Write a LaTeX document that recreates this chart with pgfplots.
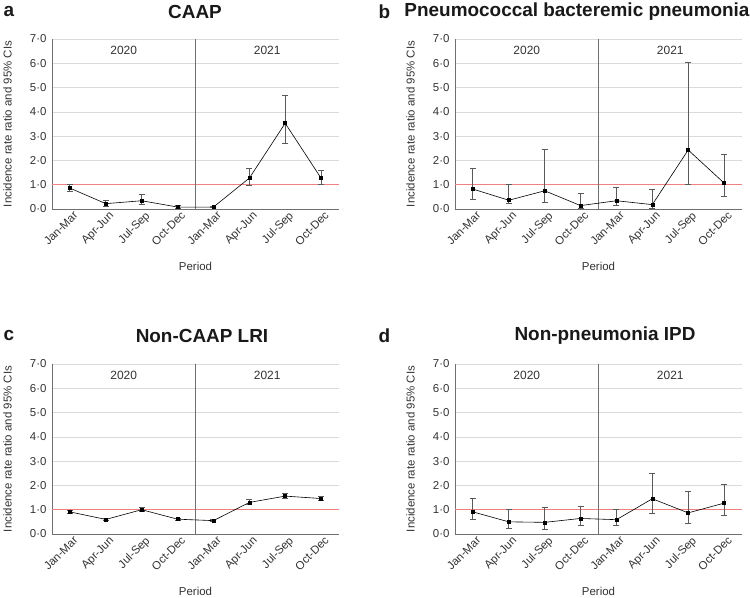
\documentclass[border=0pt]{standalone}
\usepackage{pgfplots}
\pgfplotsset{compat=1.18}
\usepackage{pgfplotstable}
\usepackage{fontspec}
\setmainfont{Liberation Sans}

\pgfplotstableread{
x y lo hi
1 0.86 0.74 1.02
2 0.22 0.11 0.36
3 0.34 0.19 0.60
4 0.08 0.03 0.14
5 0.08 0.05 0.11
6 1.27 0.97 1.66
7 3.53 2.68 4.66
8 1.27 1.03 1.57
}\dataA
\pgfplotstableread{
x y lo hi
1 0.82 0.41 1.66
2 0.36 0.22 1.03
3 0.75 0.25 2.45
4 0.14 0.03 0.64
5 0.34 0.14 0.89
6 0.18 0.03 0.81
7 2.43 1.00 6.03
8 1.07 0.52 2.24
}\dataB
\pgfplotstableread{
x y lo hi
1 0.91 0.85 0.98
2 0.60 0.55 0.66
3 1.00 0.91 1.09
4 0.61 0.57 0.66
5 0.55 0.51 0.59
6 1.30 1.20 1.41
7 1.56 1.45 1.68
8 1.46 1.37 1.56
}\dataC
\pgfplotstableread{
x y lo hi
1 0.91 0.59 1.45
2 0.50 0.23 1.01
3 0.48 0.20 1.09
4 0.64 0.37 1.12
5 0.59 0.34 1.00
6 1.45 0.85 2.48
7 0.87 0.42 1.75
8 1.27 0.78 2.05
}\dataD

\definecolor{gridc}{HTML}{DADADA}
\definecolor{axc}{HTML}{707070}
\definecolor{refred}{HTML}{F08080}
\definecolor{errc}{HTML}{5A5A5A}
\definecolor{txt}{HTML}{333333}

\pgfplotsset{
  panel/.style={
    width=287bp, height=170bp, scale only axis,
    xmin=0.5, xmax=8.5, ymin=0, ymax=7,
    axis x line*=bottom, axis y line*=left,
    axis line style={-, draw=axc, line width=0.7pt},
    ytick={0,1,...,7},
    yticklabels={0·0,1·0,2·0,3·0,4·0,5·0,6·0,7·0},
    ymajorgrids, grid style={draw=gridc, line width=0.7pt},
    xtick={1,...,8},
    xticklabels={Jan-Mar,Apr-Jun,Jul-Sep,Oct-Dec,Jan-Mar,Apr-Jun,Jul-Sep,Oct-Dec},
    xtick style={draw=none},
    ytick style={draw=none},
    extra x ticks={1.5,2.5,...,7.5},
    extra x tick labels={},
    extra x tick style={tick style={draw=axc, line width=0.7pt}, major tick length=4bp, tick align=outside, grid=none},
    tick label style={font=\fontsize{11.5}{13}\selectfont, text=txt},
    xticklabel style={rotate=45, anchor=north east, inner sep=1bp, yshift=-2bp, xshift=2bp},
    yticklabel style={xshift=-2bp},
    /pgf/number format/assume math mode=true,
    xlabel={Period},
    ylabel={Incidence rate ratio and 95\% CIs},
    label style={font=\fontsize{11.5}{13}\selectfont, text=txt},
    xlabel style={at={(axis description cs:0.5,-0.335)}, anchor=center},
    ylabel style={at={(axis description cs:-0.155,0.5)}, anchor=center},
    clip=false,
  },
  series/.style={
    black, line width=0.6pt, mark=square*, mark size=1.5bp,
    mark options={solid, fill=black},
    error bars/.cd, y dir=both, y explicit,
    error bar style={draw=errc, line width=0.9pt},
    error mark options={rotate=90, mark size=3bp, draw=errc, line width=0.9pt},
  },
}

\newcommand{\panel}[1]{%
  \addplot[refred, line width=0.8pt, forget plot] coordinates {(0.5,1) (8.5,1)};
  \addplot[axc, line width=0.8pt, forget plot] coordinates {(4.5,0) (4.5,7)};
  \addplot[series] table[x=x, y=y,
      y error plus expr=\thisrow{hi}-\thisrow{y},
      y error minus expr=\thisrow{y}-\thisrow{lo}] {#1};
  \node[font=\fontsize{12}{14}\selectfont, text=txt] at (axis cs:2.5,6.55) {2020};
  \node[font=\fontsize{12}{14}\selectfont, text=txt] at (axis cs:6.5,6.55) {2021};
}

\begin{document}
\begin{tikzpicture}
\path[use as bounding box] (0bp,0bp) rectangle (750bp,598bp);

\begin{axis}[panel, at={(52bp,389bp)}, anchor=south west]
\panel{\dataA}
\end{axis}
\begin{axis}[panel, at={(455bp,389bp)}, anchor=south west]
\panel{\dataB}
\end{axis}
\begin{axis}[panel, at={(52bp,64bp)}, anchor=south west]
\panel{\dataC}
\end{axis}
\begin{axis}[panel, at={(455bp,64bp)}, anchor=south west]
\panel{\dataD}
\end{axis}

\tikzset{ttl/.style={font=\fontsize{19}{22}\selectfont\bfseries, text=black!90}}
\node[ttl, anchor=west] at (0bp,586bp) {a};
\node[ttl] at (195bp,586bp) {CAAP};
\node[ttl, anchor=west] at (375bp,586bp) {b};
\node[ttl] at (577bp,586bp) {Pneumococcal bacteremic pneumonia};
\node[ttl, anchor=west] at (0bp,262bp) {c};
\node[ttl] at (202bp,262bp) {Non-CAAP LRI};
\node[ttl, anchor=west] at (375bp,262bp) {d};
\node[ttl] at (605bp,262bp) {Non-pneumonia IPD};
\end{tikzpicture}
\end{document}
